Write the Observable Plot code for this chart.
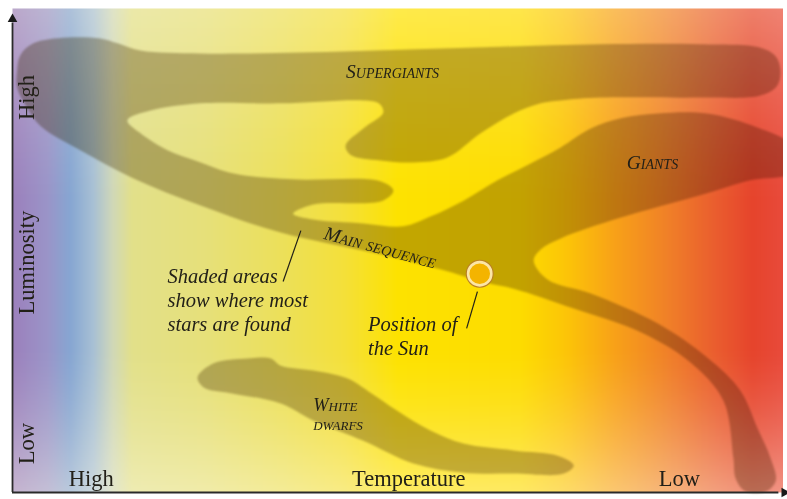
<!DOCTYPE html>
<html>
<head>
<meta charset="utf-8">
<script src="https://cdn.jsdelivr.net/npm/d3@7"></script>
<script src="https://cdn.jsdelivr.net/npm/@observablehq/plot@0.6"></script>
<style>
  html, body { margin: 0; padding: 0; background: #fff; }
  #chart svg { display: block; }
  #chart g[aria-label="line"] path { filter: blur(1.2px); }
</style>
</head>
<body>
<div id="chart"></div>
<script>
// Temperature runs 0 (hot, left) .. 100 (cool, right); luminosity 0 (low) .. 100 (high)

// Outline of the connected region: supergiants, main sequence and giants branches
const branchesOutline = [
  [0.6, 87.2], [1.0, 90.3], [2.7, 92.8], [7.1, 94.0], [11.4, 93.8], [13.6, 92.8],
  [16.6, 91.3], [24.4, 90.7], [37.4, 90.9], [50.3, 91.5], [63.3, 92.1], [76.3, 92.6],
  [89.2, 92.6], [97.0, 91.9], [99.0, 90.1], [99.6, 87.2], [99.2, 84.1], [97.0, 82.0],
  [89.2, 81.6], [76.3, 81.6], [71.1, 81.0], [68.5, 80.4], [65.0, 78.3], [60.7, 74.2],
  [56.4, 69.2], [52.0, 68.2], [47.7, 68.6], [43.8, 69.8], [43.2, 71.7], [45.5, 75.2],
  [48.1, 78.5], [47.5, 80.4], [45.5, 81.0], [34.8, 80.4], [24.4, 80.4], [17.9, 78.9],
  [14.9, 76.9], [16.6, 74.2], [20.1, 70.7], [24.4, 68.2], [28.7, 65.9], [36.4, 64.7],
  [47.7, 64.3], [49.4, 62.4], [48.0, 60.3], [39.0, 59.5], [36.4, 57.6], [39.0, 56.4],
  [45.5, 55.6], [50.7, 55.0], [54.2, 57.0], [58.5, 60.3], [62.9, 64.5], [67.2, 68.0],
  [71.1, 71.3], [75.0, 75.2], [78.9, 77.3], [83.7, 78.3], [90.1, 78.3], [96.6, 75.4],
  [101, 71.7], [101, 66.1], [95.7, 64.5], [89.2, 61.4], [78.9, 56.8], [71.1, 52.5],
  [68.5, 50.2], [67.6, 47.9], [69.4, 44.0], [75.0, 41.1], [83.7, 34.9], [90.1, 27.9],
  [94.4, 21.1], [96.6, 13.4], [98.3, 7.2], [99.0, 2.5], [97.7, 0.2], [95.1, 0.2],
  [93.8, 2.9], [93.5, 7.2], [92.2, 19.0], [87.9, 26.9], [81.5, 33.1], [72.8, 38.0],
  [65.0, 42.1], [60.7, 43.6], [56.4, 45.7], [47.7, 49.2], [34.8, 53.7], [24.4, 59.3],
  [15.7, 64.9], [8.8, 70.7], [3.6, 75.8], [1.7, 80.0], [0.6, 83.7]
];

// Outline of the white dwarf region
const whiteDwarfOutline = [
  [24.0, 23.8], [26.1, 26.7], [30.5, 27.7], [33.5, 27.7], [34.8, 26.2], [39.0, 25.2],
  [43.4, 23.6], [46.0, 21.1], [49.9, 16.9], [54.2, 12.8], [58.5, 10.1], [65.0, 8.7],
  [70.7, 7.6], [72.8, 5.6], [71.5, 3.9], [65.0, 3.9], [58.5, 4.1], [52.0, 6.0],
  [45.5, 10.7], [39.0, 14.9], [34.8, 18.4], [28.3, 20.5], [24.8, 21.7]
];

// Region labels
const giantNames = ["Supergiants", "Giants"];
const giantT = [49.3, 83.0];
const giantL = [87.0, 68.2];
const dwarfNames = ["White", "dwarfs"];
const dwarfT = [39.0, 39.0];
const dwarfL = [18.0, 14.1];
const mainSeqName = ["Main sequence"];
const mainSeqT = [47.7];
const mainSeqL = [50.6];

// The Sun
const sunT = [60.6];
const sunL = [45.2];

// Annotations and their pointer lines
const noteTexts = ["Shaded areas\nshow where most\nstars are found", "Position of\nthe Sun"];
const noteT = [20.1, 46.1];
const noteL = [39.9, 32.5];
const pointerT1 = [35.1, 58.9];
const pointerL1 = [43.6, 33.9];
const pointerT2 = [37.4, 60.3];
const pointerL2 = [54.1, 41.5];

// Axis labels
const tempLabels = ["High", "Temperature", "Low"];
const tempT = [10.2, 51.4, 86.5];
const lumLabels = ["High", "Luminosity", "Low"];
const lumL = [81.6, 47.5, 10.1];

// Background colour stops along temperature
const bgStopT = [0, 4.5, 7.5, 10.5, 13, 15.5, 25, 35, 43, 50, 66, 72, 78, 85, 91, 96, 100];
const bgStopColor = ["#9c80bc", "#9a94c8", "#86a6d2", "#a8c0d4", "#d0d8b8", "#e2e08a",
  "#e6e07a", "#ece05a", "#f4e03a", "#fde200", "#fddc00", "#fcc408", "#f8a218",
  "#f08028", "#ea5e2e", "#e6442c", "#e84a3c"];

const baseColor = d3.scaleLinear().domain(bgStopT).range(bgStopColor)
  .interpolate(d3.interpolateRgb).clamp(true);
function background(t, l) {
  let w = 0;
  if (l > 60) w = 0.32 * Math.pow((l - 60) / 40, 1.3);
  else if (l < 30) w = 0.42 * Math.pow((30 - l) / 30, 1.4);
  return d3.interpolateRgb(baseColor(t), "#fffbea")(w);
}

const pts = (arr) => arr.map(([t, l]) => ({t, l}));
const serif = "Liberation Serif";
const ink = "#222018";
const blob = "#c4bcaa";

const chart = Plot.plot({
  width: 787,
  height: 499,
  marginLeft: 12,
  marginRight: 4,
  marginTop: 8,
  marginBottom: 7,
  x: {domain: [0, 100], axis: null},
  y: {domain: [0, 100], axis: null},
  color: {type: "identity"},
  style: {background: "#ffffff", overflow: "visible"},
  marks: [
    Plot.raster({x1: 0, x2: 100, y1: 0, y2: 100, fill: background, pixelSize: 2, imageRendering: "auto"}),
    Plot.line(pts(branchesOutline), {x: "t", y: "l", curve: "catmull-rom-closed",
      fill: blob, stroke: "none", mixBlendMode: "multiply"}),
    Plot.line(pts(whiteDwarfOutline), {x: "t", y: "l", curve: "catmull-rom-closed",
      fill: blob, stroke: "none", mixBlendMode: "multiply"}),
    // white margin to the right of the frame (trims the giants branch at the edge)
    Plot.rect([0], {x1: 100, x2: 101, y1: 0.5, y2: 100, fill: "#ffffff", stroke: "none"}),
    // region labels
    Plot.text(giantNames, {x: (d, i) => giantT[i], y: (d, i) => giantL[i], text: d => d,
      fontFamily: serif, fontStyle: "italic", fontVariant: "small-caps", fontSize: 19.5, fill: ink}),
    Plot.text(dwarfNames, {x: (d, i) => dwarfT[i], y: (d, i) => dwarfL[i], text: d => d,
      textAnchor: "start", fontFamily: serif, fontStyle: "italic", fontVariant: "small-caps",
      fontSize: 18.5, fill: ink}),
    Plot.text(mainSeqName, {x: (d, i) => mainSeqT[i], y: (d, i) => mainSeqL[i], text: d => d,
      rotate: 15, fontFamily: serif, fontStyle: "italic", fontVariant: "small-caps",
      fontSize: 19.5, fill: ink}),
    // pointer lines
    Plot.link(noteTexts, {x1: (d, i) => pointerT1[i], y1: (d, i) => pointerL1[i],
      x2: (d, i) => pointerT2[i], y2: (d, i) => pointerL2[i], stroke: ink, strokeWidth: 1.2}),
    // annotations
    Plot.text(noteTexts, {x: (d, i) => noteT[i], y: (d, i) => noteL[i], text: d => d,
      textAnchor: "start", fontFamily: serif, fontStyle: "italic", fontSize: 20.5,
      lineHeight: 1.18, fill: ink}),
    // the Sun
    Plot.dot(sunT, {x: d => d, y: (d, i) => sunL[i], r: 14, fill: "#b98026", stroke: "none"}),
    Plot.dot(sunT, {x: d => d, y: (d, i) => sunL[i], r: 11.6, fill: "#f4b400",
      stroke: "#fce6a6", strokeWidth: 2.6}),
    // axes
    Plot.ruleX([0], {y1: 0, y2: 97, stroke: "#2a2a2a", strokeWidth: 1.8}),
    Plot.ruleY([0], {x1: 0, x2: 99.4, stroke: "#2a2a2a", strokeWidth: 2}),
    Plot.dot([0], {x: 0, y: 97.8, symbol: "triangle2", r: 4.6, fill: "#1a1a1a", stroke: "none"}),
    Plot.dot([0], {x: 100.1, y: 0, symbol: "triangle2", r: 4.6, rotate: 90, fill: "#1a1a1a", stroke: "none"}),
    // axis labels
    Plot.text(tempLabels, {x: (d, i) => tempT[i], y: 2.9, text: d => d,
      fontFamily: serif, fontSize: 22.5, fill: ink}),
    Plot.text(lumLabels, {x: 1.9, y: (d, i) => lumL[i], text: d => d, rotate: -90,
      fontFamily: serif, fontSize: 22.5, fill: ink})
  ]
});
document.getElementById("chart").appendChild(chart);
</script>
</body>
</html>
